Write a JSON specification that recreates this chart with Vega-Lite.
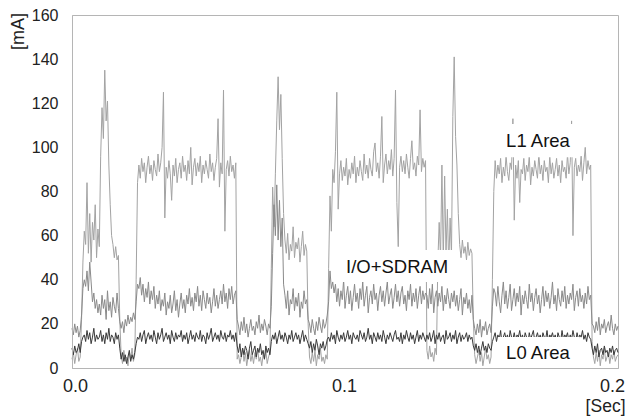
{
"$schema": "https://vega.github.io/schema/vega-lite/v6.json",
"width": 546, "height": 353,
"autosize": {"type": "none"},
"padding": {"left": 72, "top": 15, "right": 9, "bottom": 51},
"background": "white",
"config": {
 "font": "Liberation Sans",
 "view": {"stroke": "#b5b5b5", "strokeWidth": 1},
 "axis": {"grid": false, "ticks": false, "domainColor": "#b5b5b5", "labelColor": "#222222", "titleColor": "#222222", "titleFontWeight": "normal", "labelFont": "Liberation Sans", "titleFont": "Liberation Sans"}
},
"datasets": {
"trace": [
{"t":0,"l1":4,"io":18,"l0":9},{"t":0.0005,"l1":7,"io":15,"l0":6},{"t":0.001,"l1":2,"io":20,"l0":10},{"t":0.0015,"l1":6,"io":16,"l0":7},{"t":0.002,"l1":9,"io":19,"l0":8},{"t":0.0025,"l1":3,"io":14,"l0":11},{"t":0.003,"l1":5,"io":17,"l0":7},{"t":0.0035,"l1":22,"io":24,"l0":12},{"t":0.004,"l1":48,"io":36,"l0":14},{"t":0.0045,"l1":62,"io":40,"l0":15},
{"t":0.005,"l1":56,"io":37,"l0":12},{"t":0.0055,"l1":84,"io":44,"l0":17},{"t":0.006,"l1":52,"io":35,"l0":13},{"t":0.0065,"l1":70,"io":48,"l0":16},{"t":0.007,"l1":48,"io":39,"l0":11},{"t":0.0075,"l1":66,"io":30,"l0":14},{"t":0.008,"l1":58,"io":34,"l0":18},{"t":0.0085,"l1":74,"io":27,"l0":12},{"t":0.009,"l1":50,"io":31,"l0":15},{"t":0.0095,"l1":63,"io":25,"l0":13},
{"t":0.01,"l1":55,"io":29,"l0":14},{"t":0.0105,"l1":96,"io":24,"l0":17},{"t":0.011,"l1":118,"io":33,"l0":12},{"t":0.0115,"l1":104,"io":27,"l0":15},{"t":0.012,"l1":135,"io":31,"l0":11},{"t":0.0125,"l1":112,"io":22,"l0":16},{"t":0.013,"l1":121,"io":35,"l0":13},{"t":0.0135,"l1":92,"io":26,"l0":18},{"t":0.014,"l1":74,"io":30,"l0":12},{"t":0.0145,"l1":60,"io":23,"l0":15},
{"t":0.015,"l1":56,"io":32,"l0":14},{"t":0.0155,"l1":50,"io":28,"l0":11},{"t":0.016,"l1":55,"io":25,"l0":16},{"t":0.0165,"l1":49,"io":34,"l0":13},{"t":0.017,"l1":51,"io":27,"l0":15},{"t":0.0175,"l1":22,"io":21,"l0":9},{"t":0.018,"l1":6,"io":18,"l0":4},{"t":0.0185,"l1":2,"io":21,"l0":7},{"t":0.019,"l1":8,"io":16,"l0":3},{"t":0.0195,"l1":3,"io":22,"l0":6},
{"t":0.02,"l1":5,"io":19,"l0":2},{"t":0.0205,"l1":1,"io":24,"l0":5},{"t":0.021,"l1":7,"io":20,"l0":8},{"t":0.0215,"l1":4,"io":23,"l0":3},{"t":0.022,"l1":9,"io":21,"l0":6},{"t":0.0225,"l1":3,"io":25,"l0":4},{"t":0.023,"l1":6,"io":22,"l0":7},{"t":0.0235,"l1":40,"io":30,"l0":11},{"t":0.024,"l1":84,"io":38,"l0":14},{"t":0.0245,"l1":92,"io":36,"l0":13},
{"t":0.025,"l1":86,"io":41,"l0":16},{"t":0.0255,"l1":95,"io":33,"l0":12},{"t":0.026,"l1":89,"io":38,"l0":15},{"t":0.0265,"l1":93,"io":30,"l0":17},{"t":0.027,"l1":84,"io":36,"l0":11},{"t":0.0275,"l1":91,"io":32,"l0":14},{"t":0.028,"l1":96,"io":39,"l0":16},{"t":0.0285,"l1":88,"io":29,"l0":13},{"t":0.029,"l1":92,"io":35,"l0":15},{"t":0.0295,"l1":85,"io":31,"l0":12},
{"t":0.03,"l1":94,"io":37,"l0":17},{"t":0.0305,"l1":90,"io":27,"l0":14},{"t":0.031,"l1":87,"io":33,"l0":11},{"t":0.0315,"l1":97,"io":29,"l0":16},{"t":0.032,"l1":89,"io":35,"l0":13},{"t":0.0325,"l1":93,"io":26,"l0":15},{"t":0.033,"l1":100,"io":31,"l0":18},{"t":0.0335,"l1":125,"io":28,"l0":12},{"t":0.034,"l1":68,"io":34,"l0":14},{"t":0.0345,"l1":91,"io":24,"l0":16},
{"t":0.035,"l1":86,"io":30,"l0":13},{"t":0.0355,"l1":94,"io":27,"l0":15},{"t":0.036,"l1":88,"io":33,"l0":11},{"t":0.0365,"l1":76,"io":25,"l0":17},{"t":0.037,"l1":92,"io":29,"l0":14},{"t":0.0375,"l1":87,"io":35,"l0":12},{"t":0.038,"l1":95,"io":26,"l0":16},{"t":0.0385,"l1":84,"io":31,"l0":13},{"t":0.039,"l1":90,"io":23,"l0":15},{"t":0.0395,"l1":93,"io":29,"l0":14},
{"t":0.04,"l1":86,"io":34,"l0":17},{"t":0.0405,"l1":96,"io":27,"l0":12},{"t":0.041,"l1":89,"io":31,"l0":15},{"t":0.0415,"l1":92,"io":25,"l0":13},{"t":0.042,"l1":85,"io":33,"l0":16},{"t":0.0425,"l1":94,"io":29,"l0":11},{"t":0.043,"l1":88,"io":36,"l0":14},{"t":0.0435,"l1":100,"io":28,"l0":17},{"t":0.044,"l1":83,"io":32,"l0":13},{"t":0.0445,"l1":91,"io":26,"l0":15},
{"t":0.045,"l1":95,"io":34,"l0":12},{"t":0.0455,"l1":87,"io":30,"l0":16},{"t":0.046,"l1":93,"io":37,"l0":14},{"t":0.0465,"l1":89,"io":28,"l0":13},{"t":0.047,"l1":96,"io":33,"l0":17},{"t":0.0475,"l1":84,"io":26,"l0":12},{"t":0.048,"l1":92,"io":35,"l0":15},{"t":0.0485,"l1":88,"io":31,"l0":14},{"t":0.049,"l1":94,"io":27,"l0":11},{"t":0.0495,"l1":90,"io":34,"l0":16},
{"t":0.05,"l1":86,"io":29,"l0":13},{"t":0.0505,"l1":97,"io":32,"l0":15},{"t":0.051,"l1":89,"io":25,"l0":18},{"t":0.0515,"l1":93,"io":30,"l0":12},{"t":0.052,"l1":85,"io":36,"l0":14},{"t":0.0525,"l1":91,"io":28,"l0":16},{"t":0.053,"l1":95,"io":33,"l0":13},{"t":0.0535,"l1":113,"io":27,"l0":15},{"t":0.054,"l1":82,"io":31,"l0":12},{"t":0.0545,"l1":93,"io":35,"l0":17},
{"t":0.055,"l1":88,"io":29,"l0":14},{"t":0.0555,"l1":126,"io":38,"l0":13},{"t":0.056,"l1":62,"io":30,"l0":16},{"t":0.0565,"l1":90,"io":34,"l0":12},{"t":0.057,"l1":94,"io":27,"l0":15},{"t":0.0575,"l1":87,"io":36,"l0":14},{"t":0.058,"l1":96,"io":31,"l0":17},{"t":0.0585,"l1":89,"io":37,"l0":13},{"t":0.059,"l1":92,"io":29,"l0":15},{"t":0.0595,"l1":86,"io":33,"l0":12},
{"t":0.06,"l1":93,"io":35,"l0":16},{"t":0.0605,"l1":4,"io":22,"l0":10},{"t":0.061,"l1":6,"io":19,"l0":7},{"t":0.0615,"l1":2,"io":15,"l0":11},{"t":0.062,"l1":5,"io":21,"l0":5},{"t":0.0625,"l1":9,"io":17,"l0":9},{"t":0.063,"l1":3,"io":23,"l0":6},{"t":0.0635,"l1":7,"io":16,"l0":10},{"t":0.064,"l1":1,"io":20,"l0":8},{"t":0.0645,"l1":5,"io":14,"l0":4},
{"t":0.065,"l1":8,"io":18,"l0":9},{"t":0.0655,"l1":3,"io":22,"l0":12},{"t":0.066,"l1":6,"io":17,"l0":6},{"t":0.0665,"l1":2,"io":19,"l0":8},{"t":0.067,"l1":7,"io":15,"l0":10},{"t":0.0675,"l1":4,"io":21,"l0":5},{"t":0.068,"l1":9,"io":18,"l0":9},{"t":0.0685,"l1":3,"io":24,"l0":7},{"t":0.069,"l1":5,"io":16,"l0":11},{"t":0.0695,"l1":1,"io":20,"l0":6},
{"t":0.07,"l1":6,"io":17,"l0":8},{"t":0.0705,"l1":4,"io":22,"l0":4},{"t":0.071,"l1":8,"io":19,"l0":10},{"t":0.0715,"l1":2,"io":15,"l0":7},{"t":0.072,"l1":5,"io":20,"l0":9},{"t":0.0725,"l1":7,"io":18,"l0":6},{"t":0.073,"l1":45,"io":28,"l0":12},{"t":0.0735,"l1":82,"io":52,"l0":15},{"t":0.074,"l1":64,"io":74,"l0":13},{"t":0.0745,"l1":88,"io":60,"l0":16},
{"t":0.075,"l1":112,"io":83,"l0":11},{"t":0.0755,"l1":132,"io":58,"l0":14},{"t":0.076,"l1":108,"io":76,"l0":17},{"t":0.0765,"l1":124,"io":55,"l0":13},{"t":0.077,"l1":95,"io":68,"l0":15},{"t":0.0775,"l1":70,"io":38,"l0":12},{"t":0.078,"l1":58,"io":33,"l0":16},{"t":0.0785,"l1":52,"io":27,"l0":14},{"t":0.079,"l1":61,"io":35,"l0":11},{"t":0.0795,"l1":49,"io":24,"l0":15},
{"t":0.08,"l1":56,"io":31,"l0":13},{"t":0.0805,"l1":53,"io":29,"l0":17},{"t":0.081,"l1":64,"io":36,"l0":12},{"t":0.0815,"l1":50,"io":26,"l0":14},{"t":0.082,"l1":57,"io":32,"l0":16},{"t":0.0825,"l1":54,"io":28,"l0":13},{"t":0.083,"l1":59,"io":34,"l0":15},{"t":0.0835,"l1":48,"io":23,"l0":11},{"t":0.084,"l1":55,"io":30,"l0":14},{"t":0.0845,"l1":62,"io":27,"l0":17},
{"t":0.085,"l1":51,"io":35,"l0":12},{"t":0.0855,"l1":56,"io":29,"l0":15},{"t":0.086,"l1":53,"io":31,"l0":13},{"t":0.0865,"l1":20,"io":22,"l0":11},{"t":0.087,"l1":5,"io":20,"l0":9},{"t":0.0875,"l1":2,"io":16,"l0":12},{"t":0.088,"l1":7,"io":22,"l0":7},{"t":0.0885,"l1":3,"io":18,"l0":11},{"t":0.089,"l1":8,"io":15,"l0":8},{"t":0.0895,"l1":1,"io":21,"l0":13},
{"t":0.09,"l1":6,"io":17,"l0":10},{"t":0.0905,"l1":4,"io":23,"l0":6},{"t":0.091,"l1":9,"io":19,"l0":11},{"t":0.0915,"l1":3,"io":16,"l0":9},{"t":0.092,"l1":5,"io":22,"l0":12},{"t":0.0925,"l1":2,"io":18,"l0":8},{"t":0.093,"l1":6,"io":20,"l0":10},{"t":0.0935,"l1":4,"io":24,"l0":13},{"t":0.094,"l1":45,"io":30,"l0":14},{"t":0.0945,"l1":78,"io":44,"l0":12},
{"t":0.095,"l1":62,"io":36,"l0":16},{"t":0.0955,"l1":90,"io":39,"l0":13},{"t":0.096,"l1":84,"io":34,"l0":15},{"t":0.0965,"l1":98,"io":38,"l0":11},{"t":0.097,"l1":125,"io":30,"l0":17},{"t":0.0975,"l1":72,"io":36,"l0":14},{"t":0.098,"l1":88,"io":28,"l0":12},{"t":0.0985,"l1":94,"io":35,"l0":15},{"t":0.099,"l1":85,"io":31,"l0":13},{"t":0.0995,"l1":91,"io":40,"l0":16},
{"t":0.1,"l1":87,"io":27,"l0":12},{"t":0.1005,"l1":95,"io":33,"l0":14},{"t":0.101,"l1":83,"io":37,"l0":17},{"t":0.1015,"l1":90,"io":29,"l0":13},{"t":0.102,"l1":86,"io":35,"l0":15},{"t":0.1025,"l1":93,"io":26,"l0":11},{"t":0.103,"l1":88,"io":32,"l0":16},{"t":0.1035,"l1":96,"io":38,"l0":14},{"t":0.104,"l1":84,"io":30,"l0":13},{"t":0.1045,"l1":91,"io":34,"l0":15},
{"t":0.105,"l1":87,"io":27,"l0":12},{"t":0.1055,"l1":94,"io":36,"l0":17},{"t":0.106,"l1":89,"io":31,"l0":15},{"t":0.1065,"l1":85,"io":39,"l0":13},{"t":0.107,"l1":97,"io":28,"l0":16},{"t":0.1075,"l1":88,"io":33,"l0":12},{"t":0.108,"l1":92,"io":37,"l0":14},{"t":0.1085,"l1":86,"io":25,"l0":18},{"t":0.109,"l1":95,"io":32,"l0":13},{"t":0.1095,"l1":90,"io":35,"l0":15},
{"t":0.11,"l1":87,"io":29,"l0":11},{"t":0.1105,"l1":98,"io":38,"l0":16},{"t":0.111,"l1":102,"io":31,"l0":14},{"t":0.1115,"l1":89,"io":34,"l0":12},{"t":0.112,"l1":93,"io":26,"l0":16},{"t":0.1125,"l1":86,"io":33,"l0":13},{"t":0.113,"l1":96,"io":37,"l0":15},{"t":0.1135,"l1":114,"io":30,"l0":12},{"t":0.114,"l1":84,"io":35,"l0":17},{"t":0.1145,"l1":92,"io":28,"l0":14},
{"t":0.115,"l1":97,"io":34,"l0":11},{"t":0.1155,"l1":88,"io":39,"l0":15},{"t":0.116,"l1":94,"io":29,"l0":13},{"t":0.1165,"l1":90,"io":33,"l0":16},{"t":0.117,"l1":99,"io":36,"l0":14},{"t":0.1175,"l1":87,"io":27,"l0":12},{"t":0.118,"l1":95,"io":32,"l0":15},{"t":0.1185,"l1":126,"io":38,"l0":17},{"t":0.119,"l1":75,"io":30,"l0":13},{"t":0.1195,"l1":55,"io":35,"l0":14},
{"t":0.12,"l1":91,"io":28,"l0":12},{"t":0.1205,"l1":96,"io":34,"l0":16},{"t":0.121,"l1":89,"io":37,"l0":11},{"t":0.1215,"l1":94,"io":29,"l0":15},{"t":0.122,"l1":88,"io":33,"l0":13},{"t":0.1225,"l1":97,"io":26,"l0":17},{"t":0.123,"l1":91,"io":35,"l0":14},{"t":0.1235,"l1":86,"io":31,"l0":12},{"t":0.124,"l1":95,"io":38,"l0":16},{"t":0.1245,"l1":103,"io":28,"l0":13},
{"t":0.125,"l1":90,"io":34,"l0":15},{"t":0.1255,"l1":93,"io":30,"l0":11},{"t":0.126,"l1":87,"io":36,"l0":14},{"t":0.1265,"l1":96,"io":27,"l0":17},{"t":0.127,"l1":92,"io":33,"l0":12},{"t":0.1275,"l1":117,"io":37,"l0":15},{"t":0.128,"l1":89,"io":29,"l0":13},{"t":0.1285,"l1":95,"io":35,"l0":16},{"t":0.129,"l1":91,"io":31,"l0":14},{"t":0.1295,"l1":94,"io":34,"l0":12},
{"t":0.13,"l1":8,"io":33,"l0":15},{"t":0.1305,"l1":4,"io":27,"l0":13},{"t":0.131,"l1":10,"io":36,"l0":16},{"t":0.1315,"l1":5,"io":29,"l0":12},{"t":0.132,"l1":7,"io":38,"l0":14},{"t":0.1325,"l1":3,"io":25,"l0":17},{"t":0.133,"l1":9,"io":32,"l0":11},{"t":0.1335,"l1":6,"io":35,"l0":15},{"t":0.134,"l1":48,"io":28,"l0":13},{"t":0.1345,"l1":66,"io":34,"l0":16},
{"t":0.135,"l1":50,"io":30,"l0":12},{"t":0.1355,"l1":92,"io":37,"l0":14},{"t":0.136,"l1":48,"io":26,"l0":15},{"t":0.1365,"l1":87,"io":33,"l0":11},{"t":0.137,"l1":52,"io":29,"l0":17},{"t":0.1375,"l1":72,"io":36,"l0":13},{"t":0.138,"l1":46,"io":31,"l0":14},{"t":0.1385,"l1":68,"io":27,"l0":16},{"t":0.139,"l1":51,"io":34,"l0":12},{"t":0.1395,"l1":114,"io":30,"l0":15},
{"t":0.14,"l1":141,"io":35,"l0":13},{"t":0.1405,"l1":105,"io":28,"l0":17},{"t":0.141,"l1":92,"io":33,"l0":11},{"t":0.1415,"l1":70,"io":26,"l0":14},{"t":0.142,"l1":56,"io":31,"l0":16},{"t":0.1425,"l1":50,"io":36,"l0":12},{"t":0.143,"l1":58,"io":24,"l0":15},{"t":0.1435,"l1":52,"io":32,"l0":13},{"t":0.144,"l1":55,"io":29,"l0":14},{"t":0.1445,"l1":49,"io":34,"l0":16},
{"t":0.145,"l1":57,"io":27,"l0":12},{"t":0.1455,"l1":51,"io":31,"l0":15},{"t":0.146,"l1":54,"io":25,"l0":13},{"t":0.1465,"l1":52,"io":33,"l0":14},{"t":0.147,"l1":22,"io":22,"l0":10},{"t":0.1475,"l1":6,"io":18,"l0":8},{"t":0.148,"l1":2,"io":15,"l0":11},{"t":0.1485,"l1":5,"io":20,"l0":7},{"t":0.149,"l1":8,"io":16,"l0":10},{"t":0.1495,"l1":3,"io":22,"l0":6},
{"t":0.15,"l1":7,"io":14,"l0":9},{"t":0.1505,"l1":1,"io":19,"l0":12},{"t":0.151,"l1":5,"io":17,"l0":8},{"t":0.1515,"l1":9,"io":21,"l0":10},{"t":0.152,"l1":4,"io":15,"l0":7},{"t":0.1525,"l1":6,"io":18,"l0":11},{"t":0.153,"l1":2,"io":20,"l0":9},{"t":0.1535,"l1":5,"io":16,"l0":8},{"t":0.154,"l1":40,"io":28,"l0":12},{"t":0.1545,"l1":80,"io":36,"l0":14},
{"t":0.155,"l1":94,"io":34,"l0":16},{"t":0.1555,"l1":86,"io":28,"l0":12},{"t":0.156,"l1":92,"io":37,"l0":15},{"t":0.1565,"l1":88,"io":30,"l0":13},{"t":0.157,"l1":95,"io":25,"l0":17},{"t":0.1575,"l1":84,"io":33,"l0":11},{"t":0.158,"l1":91,"io":39,"l0":14},{"t":0.1585,"l1":87,"io":29,"l0":16},{"t":0.159,"l1":96,"io":35,"l0":13},{"t":0.1595,"l1":89,"io":27,"l0":15},
{"t":0.16,"l1":85,"io":32,"l0":12},{"t":0.1605,"l1":93,"io":38,"l0":17},{"t":0.161,"l1":90,"io":26,"l0":14},{"t":0.1615,"l1":113,"io":31,"l0":13},{"t":0.162,"l1":67,"io":36,"l0":16},{"t":0.1625,"l1":92,"io":28,"l0":12},{"t":0.163,"l1":86,"io":34,"l0":15},{"t":0.1635,"l1":94,"io":30,"l0":14},{"t":0.164,"l1":75,"io":37,"l0":17},{"t":0.1645,"l1":90,"io":24,"l0":13},
{"t":0.165,"l1":88,"io":33,"l0":15},{"t":0.1655,"l1":95,"io":29,"l0":12},{"t":0.166,"l1":85,"io":35,"l0":16},{"t":0.1665,"l1":92,"io":31,"l0":14},{"t":0.167,"l1":89,"io":27,"l0":11},{"t":0.1675,"l1":96,"io":38,"l0":16},{"t":0.168,"l1":83,"io":30,"l0":13},{"t":0.1685,"l1":91,"io":34,"l0":15},{"t":0.169,"l1":87,"io":26,"l0":17},{"t":0.1695,"l1":94,"io":32,"l0":12},
{"t":0.17,"l1":90,"io":36,"l0":14},{"t":0.1705,"l1":86,"io":29,"l0":16},{"t":0.171,"l1":97,"io":33,"l0":13},{"t":0.1715,"l1":88,"io":25,"l0":15},{"t":0.172,"l1":92,"io":31,"l0":12},{"t":0.1725,"l1":85,"io":37,"l0":16},{"t":0.173,"l1":94,"io":28,"l0":14},{"t":0.1735,"l1":89,"io":35,"l0":13},{"t":0.174,"l1":91,"io":30,"l0":17},{"t":0.1745,"l1":84,"io":34,"l0":12},
{"t":0.175,"l1":96,"io":27,"l0":15},{"t":0.1755,"l1":88,"io":32,"l0":14},{"t":0.176,"l1":93,"io":39,"l0":16},{"t":0.1765,"l1":86,"io":29,"l0":13},{"t":0.177,"l1":90,"io":33,"l0":15},{"t":0.1775,"l1":95,"io":26,"l0":11},{"t":0.178,"l1":87,"io":36,"l0":16},{"t":0.1785,"l1":92,"io":31,"l0":14},{"t":0.179,"l1":84,"io":28,"l0":12},{"t":0.1795,"l1":94,"io":35,"l0":17},
{"t":0.18,"l1":89,"io":30,"l0":13},{"t":0.1805,"l1":91,"io":37,"l0":15},{"t":0.181,"l1":86,"io":27,"l0":14},{"t":0.1815,"l1":97,"io":33,"l0":16},{"t":0.182,"l1":88,"io":29,"l0":12},{"t":0.1825,"l1":93,"io":34,"l0":15},{"t":0.183,"l1":112,"io":31,"l0":13},{"t":0.1835,"l1":60,"io":38,"l0":17},{"t":0.184,"l1":91,"io":26,"l0":14},{"t":0.1845,"l1":95,"io":32,"l0":12},
{"t":0.185,"l1":87,"io":35,"l0":16},{"t":0.1855,"l1":92,"io":28,"l0":13},{"t":0.186,"l1":89,"io":36,"l0":15},{"t":0.1865,"l1":96,"io":30,"l0":14},{"t":0.187,"l1":85,"io":33,"l0":17},{"t":0.1875,"l1":93,"io":27,"l0":13},{"t":0.188,"l1":100,"io":34,"l0":15},{"t":0.1885,"l1":88,"io":29,"l0":12},{"t":0.189,"l1":94,"io":37,"l0":16},{"t":0.1895,"l1":90,"io":31,"l0":14},
{"t":0.19,"l1":92,"io":33,"l0":13},{"t":0.1905,"l1":12,"io":20,"l0":9},{"t":0.191,"l1":5,"io":19,"l0":6},{"t":0.1915,"l1":2,"io":16,"l0":10},{"t":0.192,"l1":7,"io":21,"l0":7},{"t":0.1925,"l1":3,"io":17,"l0":11},{"t":0.193,"l1":8,"io":23,"l0":5},{"t":0.1935,"l1":1,"io":15,"l0":8},{"t":0.194,"l1":6,"io":20,"l0":9},{"t":0.1945,"l1":4,"io":18,"l0":6},
{"t":0.195,"l1":9,"io":22,"l0":10},{"t":0.1955,"l1":3,"io":16,"l0":7},{"t":0.196,"l1":5,"io":19,"l0":8},{"t":0.1965,"l1":7,"io":21,"l0":5},{"t":0.197,"l1":2,"io":17,"l0":9},{"t":0.1975,"l1":6,"io":24,"l0":7},{"t":0.198,"l1":4,"io":18,"l0":10},{"t":0.1985,"l1":8,"io":15,"l0":6},{"t":0.199,"l1":3,"io":20,"l0":8},{"t":0.1995,"l1":5,"io":17,"l0":9},
{"t":0.2,"l1":6,"io":19,"l0":7}
],
"notes": [
{"label":"L1 Area","tc":0.1707,"vc":102.8,"t1":0.1578,"t2":0.1852,"v1":95.5,"v2":110.6},
{"label":"I/O+SDRAM","tc":0.1191,"vc":45.6,"t1":0.099,"t2":0.1396,"v1":39,"v2":53.5},
{"label":"L0 Area","tc":0.1707,"vc":6.8,"t1":0.156,"t2":0.186,"v1":0,"v2":14}
]
},
"layer": [
{"data": {"name": "trace"},
 "mark": {"type": "line", "color": "#a3a3a3", "strokeWidth": 1},
 "encoding": {
  "x": {"field": "t", "type": "quantitative", "title": "[Sec]",
   "scale": {"domain": [0, 0.2], "nice": false, "zero": false},
   "axis": {"values": [0, 0.1, 0.2], "format": ".1f", "labelFontSize": 18, "labelPadding": 9, "zindex": 1, "labelFlush": false,
    "labelOffset": {"condition": [{"test": "datum.value > 0.15", "value": -6}, {"test": "datum.value < 0.05", "value": 3}], "value": -1},
    "titleFontSize": 17.5, "titleX": 553, "titleY": 43, "titleAlign": "right", "titleBaseline": "alphabetic", "titleAnchor": null}},
  "y": {"field": "l1", "type": "quantitative", "title": "[mA]",
   "scale": {"domain": [0, 160], "nice": false},
   "axis": {"values": [0, 20, 40, 60, 80, 100, 120, 140, 160], "labelFontSize": 16, "labelPadding": 14, "zindex": 1,
    "titleFontSize": 18, "titleX": -54, "titleY": 16, "titleAngle": -90, "titleAlign": "center", "titleBaseline": "middle"}}
 }},
{"data": {"name": "trace"},
 "mark": {"type": "line", "color": "#8a8a8a", "strokeWidth": 1},
 "encoding": {
  "x": {"field": "t", "type": "quantitative", "title": "[Sec]"},
  "y": {"field": "io", "type": "quantitative", "title": "[mA]"}
 }},
{"data": {"name": "trace"},
 "mark": {"type": "line", "color": "#3a3a3a", "strokeWidth": 1},
 "encoding": {
  "x": {"field": "t", "type": "quantitative", "title": "[Sec]"},
  "y": {"field": "l0", "type": "quantitative", "title": "[mA]"}
 }},
{"data": {"name": "notes"},
 "mark": {"type": "rect", "fill": "white", "stroke": null},
 "encoding": {
  "x": {"field": "t1", "type": "quantitative", "title": "[Sec]"},
  "x2": {"field": "t2"},
  "y": {"field": "v1", "type": "quantitative", "title": "[mA]"},
  "y2": {"field": "v2"}
 }},
{"data": {"name": "notes"},
 "mark": {"type": "text", "fontSize": 18.5, "color": "#111111", "font": "Liberation Sans", "baseline": "middle", "align": "center"},
 "encoding": {
  "x": {"field": "tc", "type": "quantitative", "title": "[Sec]"},
  "y": {"field": "vc", "type": "quantitative", "title": "[mA]"},
  "text": {"field": "label"}
 }}
]
}
